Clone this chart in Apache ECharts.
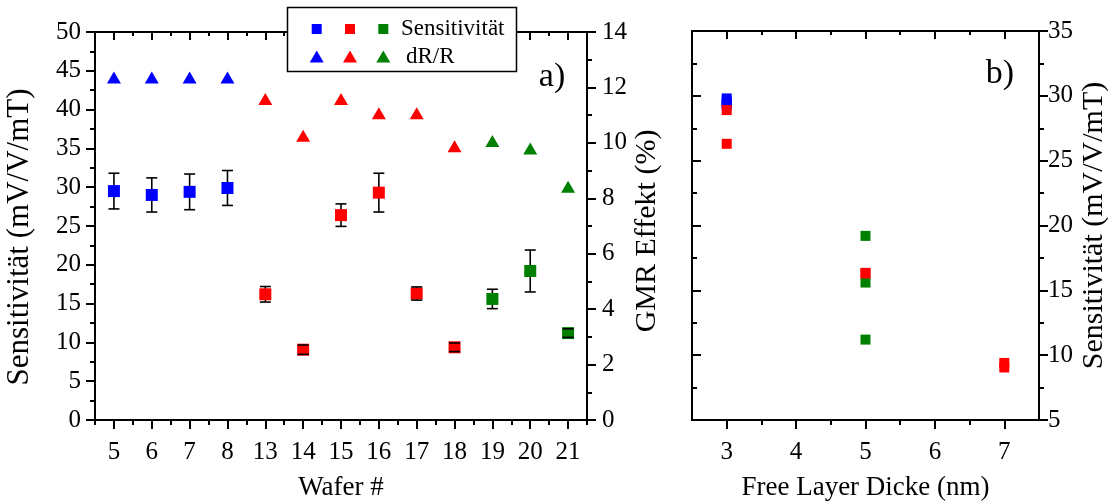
<!DOCTYPE html>
<html>
<head>
<meta charset="utf-8">
<script src="https://cdn.jsdelivr.net/npm/echarts@6/dist/echarts.min.js"></script>
<style>html,body{margin:0;padding:0;background:#fff}#c{width:1108px;height:502px}</style>
</head>
<body>
<div id="c"></div>
<script>
// ---- data (panel a) ----
const wafers   = ['5','6','7','8','13','14','15','16','17','18','19','20','21'];
const groups   = [0,0,0,0,1,1,1,1,1,1,2,2,2];          // 0 blue, 1 red, 2 green
const sens     = [29.5,29.0,29.4,29.9,16.2,9.06,26.4,29.3,16.3,9.37,15.6,19.2,11.2];
const sensErr  = [2.3,2.2,2.3,2.25,1.0,0.6,1.45,2.5,0.85,0.55,1.25,2.7,0.55];
const dRR      = [12.36,12.36,12.36,12.36,11.58,10.26,11.58,11.07,11.07,9.88,10.07,9.8,8.42];
// ---- data (panel b) ----
const bBlueX   = [3,3,3,3];
const bBlueY   = [29.25,29.4,29.55,29.8];
const bRedX    = [3,3,5,5,7,7];
const bRedY    = [28.9,26.3,16.3,16.35,9.05,9.4];
const bGreenX  = [5,5,5];
const bGreenY  = [19.2,15.6,11.2];
// ---- tick values ----
const bMajorTicks = [3,4,5,6,7];
const bMinorTicks = [3.5,4.5,5.5,6.5];
const legendLabels = ['Sensitivität','dR/R'];

const COLORS = ['#0000FF','#FF0000','#008000'];
const FONT = 'Liberation Serif';
const BLACK = '#000';
const lineS = {color:BLACK, width:2};
const TICKFS = 25;

function catAxis(pos, inside, major, showLabel, extra){
  return Object.assign({
    type:'category', gridIndex:0, data:wafers, boundaryGap:true, position:pos,
    axisLine:{show:true, onZero:false, lineStyle:lineS},
    axisTick:{show:true, inside:inside, alignWithLabel:major, length: major ? (inside?8:9) : (inside?4:5), lineStyle:lineS},
    axisLabel:{show:showLabel, fontSize:TICKFS, color:BLACK, fontFamily:FONT, margin:20},
    splitLine:{show:false}
  }, extra||{});
}
function valXAxis(pos, inside, ticks, len, showLabel, extra){
  return Object.assign({
    type:'value', gridIndex:1, min:2.5, max:7.5, position:pos,
    axisLine:{show:true, onZero:false, lineStyle:lineS},
    axisTick:{show:true, inside:inside, length:len, customValues:ticks, lineStyle:lineS},
    axisLabel:{show:showLabel, customValues:bMajorTicks, fontSize:TICKFS, color:BLACK, fontFamily:FONT, margin:20},
    splitLine:{show:false}
  }, extra||{});
}
function valYAxis(grid, pos, min, max, interval, inside, showLabel, margin, extra){
  return Object.assign({
    type:'value', gridIndex:grid, min:min, max:max, interval:interval, position:pos,
    axisLine:{show:true, onZero:false, lineStyle:lineS},
    axisTick:{show:true, inside:inside, length:9, lineStyle:lineS},
    minorTick:{show:true, splitNumber:2, length:5, lineStyle:lineS},
    axisLabel:{show:showLabel, fontSize:TICKFS, color:BLACK, fontFamily:FONT, margin:margin},
    splitLine:{show:false}, minorSplitLine:{show:false}
  }, extra||{});
}
const nameStyle = (s, pad)=>({fontSize:s, color:BLACK, fontFamily:FONT, padding:pad||0});

const xAxis = [
  catAxis('bottom', false, true, true, {name:'Wafer #', nameLocation:'middle', nameGap:54, nameTextStyle:nameStyle(27)}),
  catAxis('bottom', false, false, false),
  catAxis('top', true, true, false),
  catAxis('top', true, false, false),
  valXAxis('bottom', false, bMajorTicks, 9, true, {name:'Free Layer Dicke (nm)', nameLocation:'middle', nameGap:54, nameTextStyle:nameStyle(27)}),
  valXAxis('bottom', false, bMinorTicks, 5, false),
  valXAxis('top', true, bMajorTicks, 8, false),
  valXAxis('top', true, bMinorTicks, 4, false)
];
const yAxis = [
  valYAxis(0,'left',0,50,5,false,true,14,{name:'Sensitivität (mV/V/mT)', nameLocation:'middle', nameRotate:90, nameGap:60, nameTextStyle:nameStyle(31,[0,22,0,0])}),
  valYAxis(0,'right',0,14,2,false,true,15,{name:'GMR Effekt (%)', nameLocation:'middle', nameRotate:90, nameGap:45, nameTextStyle:nameStyle(30,[0,10,0,0])}),
  valYAxis(1,'right',5,35,5,false,true,9,{name:'Sensitivität (mV/V/mT)', nameLocation:'middle', nameRotate:90, nameGap:40, nameTextStyle:nameStyle(30)}),
  valYAxis(1,'left',5,35,5,true,false,9)
];

const series = [];
// error bar stems (below squares)
const errData = sens.map((v,i)=>[i, v, sensErr[i]]);
series.push({
  type:'custom', xAxisIndex:0, yAxisIndex:0, z:1, silent:true,
  data:errData, encode:{x:0, y:1},
  renderItem:function(params, api){
    const x=api.value(0), v=api.value(1), e=api.value(2);
    const t=api.coord([x, v+e]), b=api.coord([x, v-e]);
    return {type:'line', shape:{x1:t[0], y1:t[1], x2:b[0], y2:b[1]}, style:{stroke:BLACK, lineWidth:1.6}};
  }
});
// squares + triangles per group
for (let g=0; g<3; g++){
  const idx = wafers.map((_,i)=>i).filter(i=>groups[i]===g);
  series.push({
    type:'scatter', xAxisIndex:0, yAxisIndex:0, z:2, symbol:'rect', symbolSize:12,
    itemStyle:{color:COLORS[g], opacity:1},
    data: idx.map(i=>[i, sens[i]])
  });
  series.push({
    type:'scatter', xAxisIndex:0, yAxisIndex:1, z:2, symbol:'triangle', symbolSize:[14,12],
    itemStyle:{color:COLORS[g], opacity:1},
    data: idx.map(i=>[i, dRR[i]])
  });
}
// error bar caps (on top)
series.push({
  type:'custom', xAxisIndex:0, yAxisIndex:0, z:5, silent:true,
  data:errData, encode:{x:0, y:1},
  renderItem:function(params, api){
    const x=api.value(0), v=api.value(1), e=api.value(2);
    const t=api.coord([x, v+e]), b=api.coord([x, v-e]);
    const w=5.5;
    return {type:'group', children:[
      {type:'line', shape:{x1:t[0]-w, y1:t[1], x2:t[0]+w, y2:t[1]}, style:{stroke:BLACK, lineWidth:1.6}},
      {type:'line', shape:{x1:b[0]-w, y1:b[1], x2:b[0]+w, y2:b[1]}, style:{stroke:BLACK, lineWidth:1.6}}
    ]};
  }
});
// panel b
const bSets = [[bBlueX,bBlueY,0],[bGreenX,bGreenY,2],[bRedX,bRedY,1]];
bSets.forEach(([xs,ys,g])=>{
  series.push({
    type:'scatter', xAxisIndex:4, yAxisIndex:2, z:2, symbol:'rect', symbolSize:10,
    itemStyle:{color:COLORS[g], opacity:1},
    data: xs.map((x,i)=>[x, ys[i]])
  });
});

// legend box (panel a)
const lgX=[316.7,350,383.3], lgY1=29, lgY2=56.5;
const graphic = [
  {type:'rect', z:100, shape:{x:287.5, y:7.5, width:229, height:64}, style:{fill:'#fff', stroke:BLACK, lineWidth:1.5}},
  {type:'text', z:101, x:401, y:lgY1, style:{text:legendLabels[0], font:'23px "Liberation Serif"', fill:BLACK, textVerticalAlign:'middle', textAlign:'left'}},
  {type:'text', z:101, x:406, y:lgY2, style:{text:legendLabels[1], font:'23px "Liberation Serif"', fill:BLACK, textVerticalAlign:'middle', textAlign:'left'}},
  {type:'text', z:101, x:552, y:77, style:{text:'a)', font:'34px "Liberation Serif"', fill:BLACK, textVerticalAlign:'middle', textAlign:'center'}},
  {type:'text', z:101, x:1000, y:74, style:{text:'b)', font:'34px "Liberation Serif"', fill:BLACK, textVerticalAlign:'middle', textAlign:'center'}}
];
lgX.forEach((cx,g)=>{
  graphic.push({type:'rect', z:101, shape:{x:cx-5, y:lgY1-5, width:10, height:10}, style:{fill:COLORS[g]}});
  graphic.push({type:'polygon', z:101, shape:{points:[[cx-7,lgY2+6],[cx,lgY2-6],[cx+7,lgY2+6]]}, style:{fill:COLORS[g]}});
});

const chart = echarts.init(document.getElementById('c'), null, {renderer:'canvas'});
chart.setOption({
  animation:false,
  backgroundColor:'#fff',
  textStyle:{fontFamily:FONT},
  grid:[
    {left:95, top:32, width:492, height:388, outerBoundsMode:'none', containLabel:false},
    {left:692, top:31, width:347, height:389, outerBoundsMode:'none', containLabel:false}
  ],
  xAxis:xAxis, yAxis:yAxis, series:series, graphic:graphic
});
</script>
</body>
</html>
